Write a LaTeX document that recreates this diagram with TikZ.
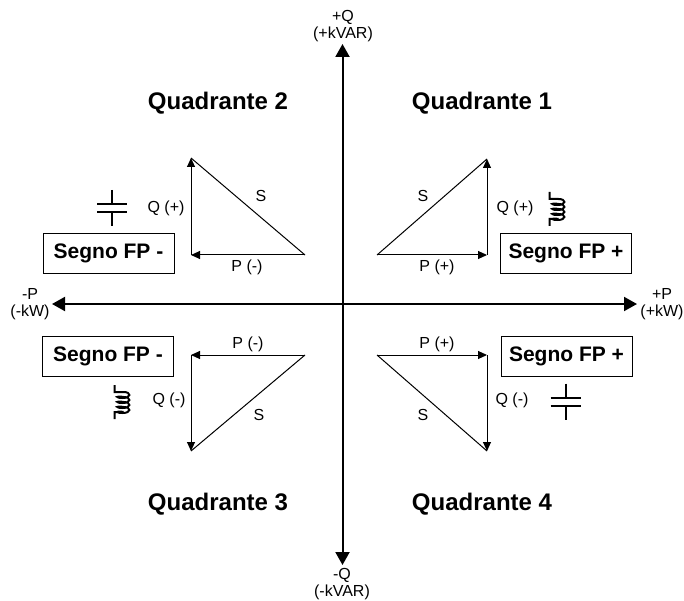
\documentclass[tikz,border=0pt]{standalone}
\usepackage{fontspec}
\setmainfont{Liberation Sans}
\usetikzlibrary{arrows.meta}
\tikzset{
  x=1pt,y=-1pt,
  axisline/.style={line width=2pt,{Triangle[length=13pt,width=14pt]}-{Triangle[length=13pt,width=14pt]}},
  edge/.style={line width=1pt,-{Triangle[length=9pt,width=8pt]}},
  hyp/.style={line width=1pt},
  axlabel/.style={font=\fontsize{16}{16.5}\selectfont,align=center,inner sep=0pt},
  vlabel/.style={font=\fontsize{16}{16}\selectfont,inner sep=0pt},
  quad/.style={font=\bfseries\fontsize{24}{26}\selectfont,inner sep=0pt},
  signbox/.style={draw,line width=0.9pt,font=\bfseries\fontsize{21}{23}\selectfont,minimum width=131pt,minimum height=40pt,inner sep=0pt},
  capline/.style={line width=2pt},
  coilline/.style={line width=2pt},
}
\newcommand{\capv}[2]{%
  \draw[capline] (#1,#2-18) -- (#1,#2-4) (#1-15,#2-4) -- (#1+15,#2-4)
    (#1-15,#2+4) -- (#1+15,#2+4) (#1,#2+4) -- (#1,#2+18);}
\newcommand{\coilv}[2]{%
  \draw[coilline] (#1,#2) -- (#1,#2+7) -- (#1+9,#2+7)
    \foreach \k in {0,1,2,3}{
      .. controls (#1+17,#2+7+5*\k) and (#1+17,#2+13+5*\k) .. (#1+8,#2+13+5*\k)
      .. controls (#1+1,#2+13+5*\k) and (#1+1,#2+10.5+5*\k) .. (#1+9,#2+12+5*\k)
    }
    -- (#1,#2+27) -- (#1,#2+34);}
\begin{document}
\begin{tikzpicture}
\useasboundingbox (0,0) rectangle (684,601);
\fill[white] (0,0) rectangle (684,601);
% axes
\coordinate (top) at (342.5,44);
\coordinate (bot) at (342.5,565);
\coordinate (lft) at (52,304);
\coordinate (rgt) at (637,304);
\draw[axisline] (bot) -- (top);
\draw[axisline] (lft) -- (rgt);
\node[axlabel] (qp) at (343,26) {+Q\\(+kVAR)};
\node[axlabel] (qm) at (342,584) {-Q\\(-kVAR)};
\node[axlabel] (pm) at (30,304) {-P\\(-kW)};
\node[axlabel] (pp) at (662,304) {+P\\(+kW)};
% quadrant titles
\node[quad] (q1) at (482,103) {Quadrante 1};
\node[quad] (q2) at (218,103) {Quadrante 2};
\node[quad] (q3) at (218,504) {Quadrante 3};
\node[quad] (q4) at (482,504) {Quadrante 4};
% triangles
\coordinate (a1) at (377,255); \coordinate (b1) at (487,255); \coordinate (c1) at (487,159);
\draw[edge] (a1) -- (b1);
\draw[edge] (b1) -- (c1);
\draw[hyp] (a1) -- (c1);
\coordinate (a2) at (305,255); \coordinate (b2) at (191,255); \coordinate (c2) at (191,158);
\draw[edge] (a2) -- (b2);
\draw[edge] (b2) -- (c2);
\draw[hyp] (a2) -- (c2);
\coordinate (a3) at (305,355); \coordinate (b3) at (191,355); \coordinate (c3) at (191,451);
\draw[edge] (a3) -- (b3);
\draw[edge] (b3) -- (c3);
\draw[hyp] (a3) -- (c3);
\coordinate (a4) at (377,355); \coordinate (b4) at (487,355); \coordinate (c4) at (487,451);
\draw[edge] (a4) -- (b4);
\draw[edge] (b4) -- (c4);
\draw[hyp] (a4) -- (c4);
% labels
\node[vlabel] (s1) at (423,196) {S};
\node[vlabel] (s2) at (261,196) {S};
\node[vlabel] (s3) at (259,415) {S};
\node[vlabel] (s4) at (423,415) {S};
\node[vlabel] (p1) at (437,267) {P (+)};
\node[vlabel] (p2) at (247,267) {P (-)};
\node[vlabel] (p3) at (248,344) {P (-)};
\node[vlabel] (p4) at (437,344) {P (+)};
\node[vlabel] (v1) at (515,208) {Q (+)};
\node[vlabel] (v2) at (166,208) {Q (+)};
\node[vlabel] (v3) at (169,400) {Q (-)};
\node[vlabel] (v4) at (512,400) {Q (-)};
% sign boxes
\node[signbox] (f1) at (566,253) {Segno FP +};
\node[signbox] (f2) at (108.5,253) {Segno FP -};
\node[signbox] (f3) at (108,356) {Segno FP -};
\node[signbox] (f4) at (566.5,356) {Segno FP +};
% components
\capv{112}{208}
\capv{565.5}{401.5}
\coilv{549.5}{192}
\coilv{114.5}{385}
\end{tikzpicture}
\end{document}
